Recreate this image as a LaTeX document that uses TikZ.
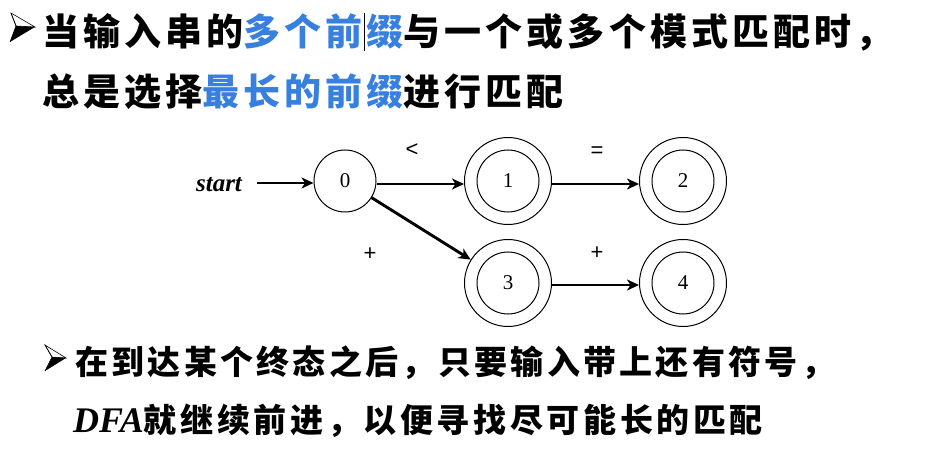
\documentclass[tikz,border=0pt]{standalone}
\usepackage{fontspec}
\setmainfont{Liberation Serif}
\newfontfamily\cjk{Noto Sans CJK SC}
\newfontfamily\lsans{Liberation Sans}
\usetikzlibrary{arrows.meta}
\definecolor{hlblue}{RGB}{56,128,224}
\tikzset{
  txt/.style={inner sep=0pt, anchor=base west},
  st/.style={circle, draw, line width=1pt, minimum size=62pt, inner sep=0pt, font=\fontsize{21}{21}\selectfont},
  acc/.style={circle, draw, line width=1pt, minimum size=87pt, inner sep=0pt},
  edge/.style={line width=2.9pt, -{Stealth[length=12pt,width=11pt,inset=3.5pt]}},
  lab/.style={font=\lsans\fontsize{22}{22}\selectfont, inner sep=0pt},
}
\begin{document}
\begin{tikzpicture}[x=1pt,y=-1pt]
\useasboundingbox (0,0) rectangle (928,462);
% bullets
\draw[line width=0.6pt, fill=white] (11,13) -- (35,27) -- (16,26) -- cycle;
\fill (16,26) -- (35,27) -- (10,42) -- cycle;
\draw[line width=0.6pt] (11,13) -- (16,26) -- (10,42);
\draw[line width=0.6pt, fill=white] (45,345) -- (66,358) -- (52,357) -- cycle;
\fill (52,357) -- (66,358) -- (45,371) -- cycle;
\draw[line width=0.6pt] (45,345) -- (52,357) -- (45,371);
% top text
\node[txt] (t1) at (42,46) {\cjk\bfseries\addfontfeature{LetterSpace=11}\fontsize{37}{37}\selectfont 当输入串的\textcolor{hlblue}{多个前缀}与一个或多个模式匹配时，};
\node[txt] (t2) at (42,106) {\cjk\bfseries\addfontfeature{LetterSpace=11}\fontsize{37}{37}\selectfont 总是选择\textcolor{hlblue}{最长的前缀}进行匹配};
\draw[line width=0.8pt] (364.5,13) -- (364.5,51);
% diagram
\node[font=\bfseries\itshape\fontsize{25}{25}\selectfont, inner sep=0pt] (start) at (219,185) {start};
\node[st] (n0) at (345,181) {0};
\node[acc] (n1) at (508,181) {};
\node[st] at (n1) {1};
\node[acc] (n2) at (683,181) {};
\node[st] at (n2) {2};
\node[acc] (n3) at (508,283) {};
\node[st] at (n3) {3};
\node[acc] (n4) at (683,283) {};
\node[st] at (n4) {4};
\coordinate (s0) at (257,183);
\draw[edge] (s0) -- (n0.west |- s0);
\draw[edge] (n0.east |- 0,184) -- (n1.west |- 0,184);
\draw[edge] (n1.east |- 0,184) -- (n2.west |- 0,184);
\draw[edge] (n0) -- (n3);
\draw[edge] (n3.east |- 0,285) -- (n4.west |- 0,285);
\node[lab] (l1) at (412,150) {<};
\node[lab] (l2) at (597,152) {=};
\node[lab] (l3) at (370,254) {+};
\node[lab] (l4) at (597,253) {+};
% bottom text
\node[txt] (b1) at (75,374) {\cjk\bfseries\addfontfeature{LetterSpace=10}\fontsize{33}{33}\selectfont 在到达某个终态之后，只要输入带上还有符号，};
\node[txt] (b2) at (73,432) {\fontsize{36}{36}\selectfont\bfseries\itshape DFA\cjk\upshape\addfontfeature{LetterSpace=11}\fontsize{33}{33}\selectfont 就继续前进，以便寻找尽可能长的匹配};
\end{tikzpicture}
\end{document}
